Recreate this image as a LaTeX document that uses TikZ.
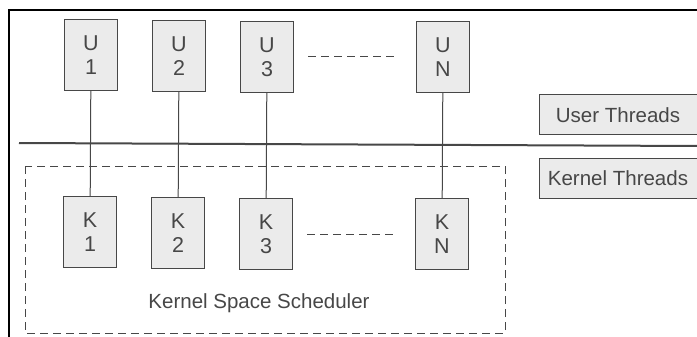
\documentclass[tikz,border=0pt]{standalone}
\usepackage{fontspec}
\setmainfont{Liberation Sans}
\usetikzlibrary{positioning}
\definecolor{ink}{HTML}{474747}
\definecolor{boxfill}{HTML}{EBEBEB}
\tikzset{font=\fontsize{20.5}{19}\selectfont}
\tikzstyle{thr}=[draw=ink,fill=boxfill,text=ink,align=center,minimum width=53pt,minimum height=71pt,inner sep=0pt,line width=1pt,font=\fontsize{21.5}{24}\selectfont]
\tikzstyle{lbl}=[draw=ink,fill=boxfill,text=ink,minimum width=158pt,minimum height=40pt,inner sep=0pt,line width=1pt]
\tikzstyle{gap}=[draw=ink,line width=1pt,dash pattern=on 8pt off 5pt]

\begin{document}
\begin{tikzpicture}[x=1pt,y=-1pt]
\useasboundingbox (0,0) rectangle (697,337);
% page frame
\draw[line width=2.5pt] (9,337) -- (9,10) -- (697,10);
% user threads
\node[thr] (U1) at (91,55) {U\\1};
\node[thr] (U2) at (179,56) {U\\2};
\node[thr] (U3) at (267,57) {U\\3};
\node[thr] (UN) at (443,57) {U\\N};
% kernel threads
\node[thr] (K1) at (90,232) {K\\1};
\node[thr] (K2) at (178,233) {K\\2};
\node[thr] (K3) at (266,234) {K\\3};
\node[thr] (KN) at (442,234) {K\\N};
\node[lbl] (UT) at (618,115) {User Threads};
\node[lbl] (KT) at (618,178) {Kernel Threads};
\node[text=ink] (KS) at (259,303) {Kernel Space Scheduler};
% boundary and scheduler region
\draw[ink,line width=2pt] (19,143) -- (697,146);
\draw[gap] (25,166) rectangle (505,333);
\draw[gap] ([xshift=14pt]U3.east) -- ([xshift=-22pt]UN.west);
\draw[gap] ([xshift=14pt]K3.east) -- ([xshift=-21pt]KN.west);
\path[draw=ink,line width=1pt]
(U1) edge (K1)
(U2) edge (K2)
(U3) edge (K3)
(UN) edge (KN);
\end{tikzpicture}
\end{document}
